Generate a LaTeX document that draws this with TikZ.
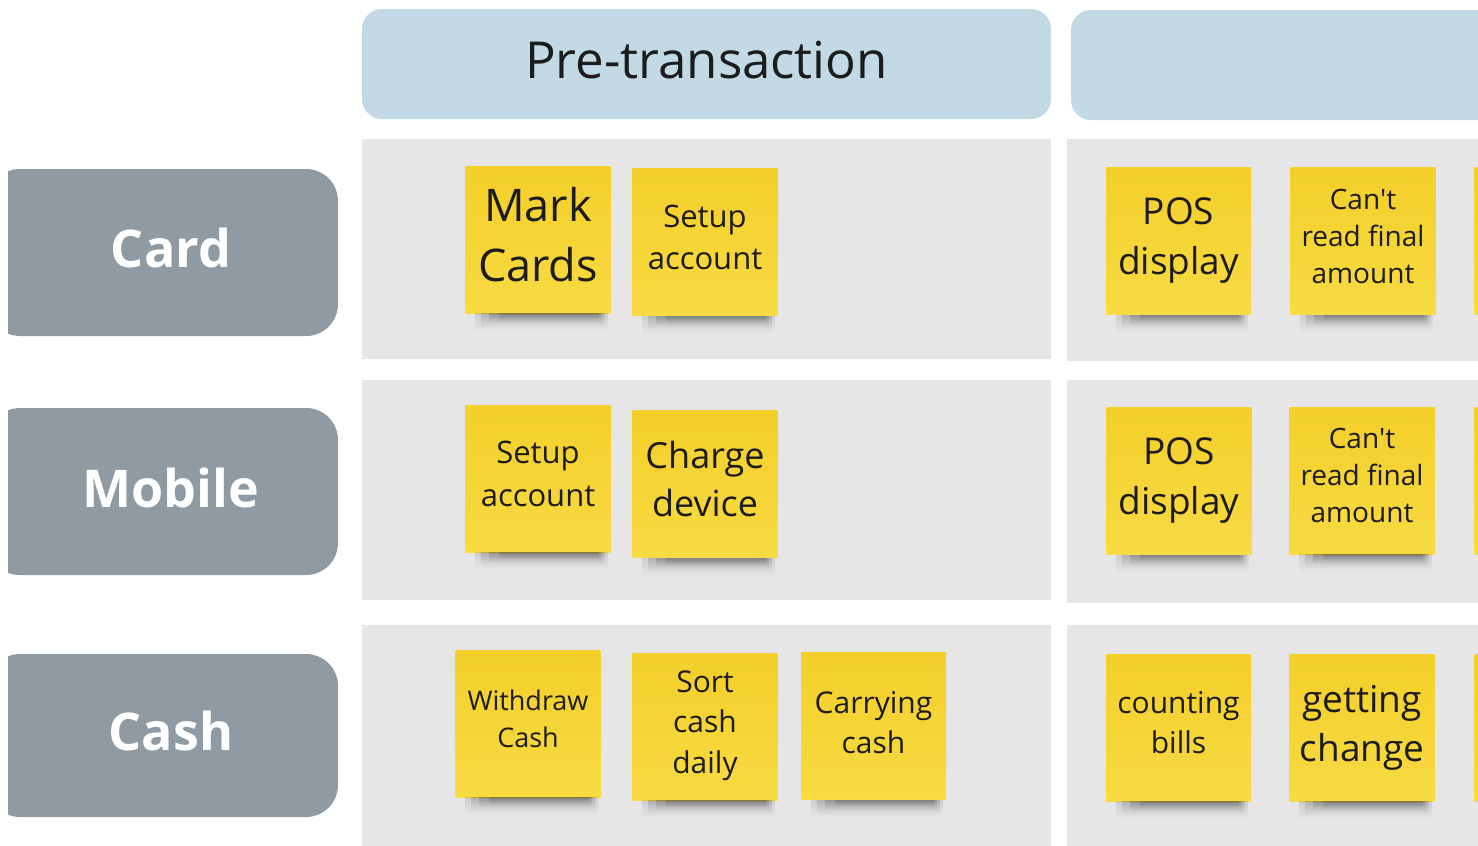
\documentclass[tikz,border=0pt]{standalone}
\usepackage{fontspec}
\setmainfont{Open Sans}
\usetikzlibrary{fadings}
\definecolor{hdr}{HTML}{C2D9E6}
\definecolor{lanegray}{HTML}{E6E6E6}
\definecolor{lblgray}{HTML}{8F9AA3}
\definecolor{ylwtop}{HTML}{F4CF2A}
\definecolor{ylwbot}{HTML}{F8DA42}
\definecolor{ink}{HTML}{1C1C1C}
\newcommand\fsz[2]{\fontsize{#1}{#2}\selectfont}
\pgfdeclarelayer{shad}
\pgfsetlayers{main,shad}
\newcommand\noteshadow[1]{%
  \begin{pgfonlayer}{shad}
  \fill[black, opacity=0.10, path fading=south] ([xshift=10pt]#1.south west) rectangle ([xshift=-3pt,yshift=-18pt]#1.south east);
  \fill[black, opacity=0.14, path fading=south] ([xshift=16pt]#1.south west) rectangle ([xshift=-6pt,yshift=-14pt]#1.south east);
  \fill[black, opacity=0.16, path fading=south] ([xshift=24pt]#1.south west) rectangle ([xshift=-9pt,yshift=-10pt]#1.south east);
  \fill[black, opacity=0.14, path fading=south] ([xshift=34pt]#1.south west) rectangle ([xshift=-12pt,yshift=-7pt]#1.south east);
  \end{pgfonlayer}}
\tikzset{
  hdrbox/.style={fill=hdr, rounded corners=20pt, inner sep=0pt},
  lanebox/.style={fill=lanegray, inner sep=0pt},
  lblbox/.style={fill=lblgray, rounded corners=32pt, inner sep=0pt},
  lbltext/.style={text=white, font=\fsz{52}{60}\bfseries},
  note/.style={top color=ylwtop, bottom color=ylwbot, inner sep=0pt,
    minimum width=145pt, minimum height=147pt},
  ntext/.style={text=ink, align=center, inner sep=0pt},
}
\begin{document}
\begin{tikzpicture}[x=1pt,y=-1pt]
\useasboundingbox (0,0) rectangle (1478,846);
\clip (0,0) rectangle (1478,846);
\fill[white] (0,0) rectangle (1478,846);
% headers
\node[hdrbox, minimum width=689pt, minimum height=110pt] (pre) at (706.5,64) {};
\node[text=ink, font=\fsz{51}{60}] (pretxt) at (706.5,60) {Pre-transaction};
\node[hdrbox, minimum width=689pt, minimum height=110pt] (hdr2) at (1415.5,65) {};
% lanes
\node[lanebox, minimum width=689pt, minimum height=220pt] (l11) at (706.5,249) {};
\node[lanebox, minimum width=600pt, minimum height=222pt] (l12) at (1367,250) {};
\node[lanebox, minimum width=689pt, minimum height=220pt] (l21) at (706.5,490) {};
\node[lanebox, minimum width=600pt, minimum height=223pt] (l22) at (1367,491.5) {};
\node[lanebox, minimum width=689pt, minimum height=240pt] (l31) at (706.5,745) {};
\node[lanebox, minimum width=600pt, minimum height=240pt] (l32) at (1367,745) {};
% row labels
\begin{scope}
\clip (8,0) rectangle (400,846);
\node[lblbox, minimum width=350pt, minimum height=167pt] (card) at (163,252.5) {};
\node[lblbox, minimum width=350pt, minimum height=167pt] (mobile) at (163,491.5) {};
\node[lblbox, minimum width=350pt, minimum height=163pt] (cash) at (163,735.5) {};
\end{scope}
\node[lbltext] (cardt) at (171,248) {Card};
\node[lbltext] (mobilet) at (171,488) {Mobile};
\node[lbltext] (casht) at (171,731) {Cash};
% row 1 notes
\node[note] (n11) at (538,239.5) {};
\node[ntext, font=\fsz{45}{60}] (t11) at ([yshift=5pt]n11.center) {Mark\\Cards};
\node[note] (n12) at (705,242) {};
\node[ntext, font=\fsz{31}{42}] (t12) at ([yshift=5pt]n12.center) {Setup\\account};
\node[note] (n13) at (1178.5,241) {};
\node[ntext, font=\fsz{37}{50}] (t13) at (n13.center) {POS\\display};
\node[note] (n14) at (1363,241) {};
\node[ntext, font=\fsz{28}{37}] (t14) at ([yshift=5pt]n14.center) {Can\textquotesingle t\\read final\\amount};
\node[note] (n15) at (1547,241) {};
% row 2 notes
\node[note] (n21) at (538,478.5) {};
\node[ntext, font=\fsz{31}{43}] (t21) at ([yshift=5pt]n21.center) {Setup\\account};
\node[note] (n22) at (705,484) {};
\node[ntext, font=\fsz{36}{48}] (t22) at ([yshift=5pt]n22.center) {Charge\\device};
\node[note] (n23) at (1179,481) {};
\node[ntext, font=\fsz{37}{50}] (t23) at (n23.center) {POS\\display};
\node[note] (n24) at (1362,480.5) {};
\node[ntext, font=\fsz{28}{37}] (t24) at ([yshift=5pt]n24.center) {Can\textquotesingle t\\read final\\amount};
\node[note] (n25) at (1547,481) {};
% row 3 notes
\node[note] (n31) at (528,723.5) {};
\node[ntext, font=\fsz{27}{37}] (t31) at ([yshift=5pt]n31.center) {Withdraw\\Cash};
\node[note] (n32) at (705,726.5) {};
\node[ntext, font=\fsz{30}{40.5}] (t32) at ([yshift=1pt]n32.center) {Sort\\cash\\daily};
\node[note] (n33) at (873.5,726) {};
\node[ntext, font=\fsz{30}{40}] (t33) at ([yshift=3pt]n33.center) {Carrying\\cash};
\node[note] (n34) at (1178.5,727.5) {};
\node[ntext, font=\fsz{30}{40}] (t34) at ([yshift=5pt]n34.center) {counting\\bills};
\node[note] (n35) at (1362,727.5) {};
\node[ntext, font=\fsz{37}{49}] (t35) at (n35.center) {getting\\change};
\node[note] (n36) at (1547,727.5) {};
% shadows
\noteshadow{n11}\noteshadow{n12}\noteshadow{n13}\noteshadow{n14}\noteshadow{n15}
\noteshadow{n21}\noteshadow{n22}\noteshadow{n23}\noteshadow{n24}\noteshadow{n25}
\noteshadow{n31}\noteshadow{n32}\noteshadow{n33}\noteshadow{n34}\noteshadow{n35}\noteshadow{n36}
\end{tikzpicture}
\end{document}
